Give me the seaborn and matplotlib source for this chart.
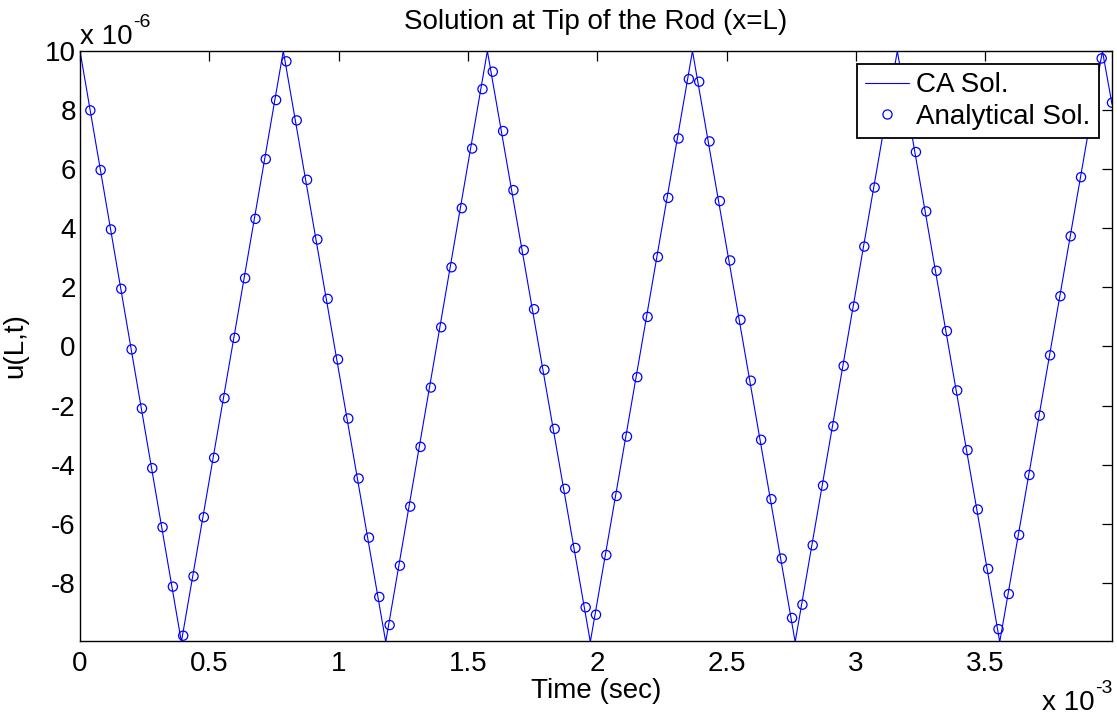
import numpy as np
import pandas as pd
import matplotlib
matplotlib.use("Agg")
import matplotlib.pyplot as plt
import seaborn as sns
from matplotlib.lines import Line2D

# ---- data (time in units of 1e-3 s, displacement in units of 1e-6) ----
ca_time_ms = [0.0, 0.392, 0.786, 1.182, 1.575, 1.973, 2.368, 2.765, 3.160, 3.556, 3.953, 3.990]
ca_disp = [10.0, -10.0, 10.0, -10.0, 10.0, -10.0, 10.0, -10.0, 10.0, -10.0, 10.0, 8.2]

sample_step_ms = 0.0399
analytical_disp = [
    7.99, 5.97, 3.96, 1.95, -0.10, -2.10, -4.12, -6.12, -8.13, -9.79,
    -7.78, -5.78, -3.77, -1.75, 0.29, 2.31, 4.32, 6.34, 8.34, 9.65,
    7.65, 5.64, 3.62, 1.61, -0.44, -2.44, -4.47, -6.47, -8.48, -9.43,
    -7.42, -5.42, -3.40, -1.39, 0.65, 2.68, 4.68, 6.70, 8.71, 9.30,
    7.29, 5.29, 3.26, 1.26, -0.79, -2.79, -4.82, -6.82, -8.83, -9.08,
    -7.06, -5.06, -3.05, -1.04, 1.00, 3.03, 5.03, 7.04, 9.05, 8.96,
    6.94, 4.92, 2.91, 0.90, -1.16, -3.16, -5.17, -7.18, -9.19, -8.74,
    -6.73, -4.71, -2.70, -0.66, 1.35, 3.38, 5.38, 7.39, 9.40, 8.60,
    6.58, 4.57, 2.56, 0.52, -1.49, -3.51, -5.52, -7.53, -9.57, -8.38,
    -6.38, -4.35, -2.34, -0.30, 1.70, 3.73, 5.73, 7.74, 9.75, 8.25,
]
analytical_time_ms = [sample_step_ms * (i + 1) for i in range(len(analytical_disp))]

x_ticks = [0, 0.5, 1, 1.5, 2, 2.5, 3, 3.5]
x_tick_labels = ["0", "0.5", "1", "1.5", "2", "2.5", "3", "3.5"]
y_ticks = [-8, -6, -4, -2, 0, 2, 4, 6, 8, 10]
y_tick_labels = ["-8", "-6", "-4", "-2", "0", "2", "4", "6", "8", "10"]

title = "Solution at Tip of the Rod (x=L)"
xlabel = "Time (sec)"
ylabel = "u(L,t)"
legend_labels = ["CA Sol.", "Analytical Sol."]
y_exp = "-6"
x_exp = "-3"

# ---- style ----
sns.set_style("white")
plt.rcParams["font.family"] = ["Liberation Sans", "DejaVu Sans"]
plt.rcParams["axes.unicode_minus"] = False
plt.rcParams["text.color"] = "black"
plt.rcParams["axes.labelcolor"] = "black"
FS = 20
FS_SUP = 14

ca_df = pd.DataFrame({"t": ca_time_ms, "u": ca_disp})
an_df = pd.DataFrame({"t": analytical_time_ms, "u": analytical_disp})

W, H = 1117, 717
fig = plt.figure(figsize=(W / 100, H / 100), dpi=100)
ax = fig.add_axes([80 / W, (H - 641) / H, (1112 - 80) / W, (641 - 51) / H])

sns.lineplot(data=ca_df, x="t", y="u", ax=ax, color="#0000ff", linewidth=0.8,
             sort=False, estimator=None, legend=False)
sns.scatterplot(data=an_df, x="t", y="u", ax=ax, marker="o", s=44,
                facecolors="none", edgecolor="#0000ff", linewidth=0.9,
                legend=False, zorder=3)

ax.set_xlim(0, 3.99)
ax.set_ylim(-9.97, 10.0)
ax.set_xticks(x_ticks)
ax.set_xticklabels(x_tick_labels)
ax.set_yticks(y_ticks)
ax.set_yticklabels(y_tick_labels)

for sp in ax.spines.values():
    sp.set_visible(True)
    sp.set_color("black")
    sp.set_linewidth(1.0)

ax.tick_params(axis="both", which="major", direction="in", length=7.2, width=0.9,
               top=True, right=True, labelsize=FS, colors="black")
ax.tick_params(axis="x", pad=7)
ax.tick_params(axis="y", pad=3)

ax.set_title(title, fontsize=FS, pad=16, color="black")
ax.set_xlabel(xlabel, fontsize=FS, labelpad=1)
ax.set_ylabel(ylabel, fontsize=FS, labelpad=12)

handles = [
    Line2D([], [], color="#0000ff", linewidth=0.8),
    Line2D([], [], marker="o", linestyle="none", markerfacecolor="none",
           markeredgecolor="#0000ff", markersize=6.6, markeredgewidth=0.9),
]
leg = ax.legend(handles, legend_labels, loc="upper right",
                bbox_to_anchor=(1099 / W, (H - 64) / H),
                bbox_transform=fig.transFigure, borderaxespad=0,
                fontsize=FS, frameon=True, fancybox=False, framealpha=1,
                edgecolor="black", borderpad=0.3, labelspacing=0.2,
                handlelength=1.6, handletextpad=0.25)
leg.get_frame().set_linewidth(1.3)

# exponent labels (MATLAB style: "x 10" with raised exponent)
fig.canvas.draw()
renderer = fig.canvas.get_renderer()

t1 = fig.text(80 / W, (H - 44) / H, "x 10", ha="left", va="baseline", fontsize=FS)
bb = t1.get_window_extent(renderer)
fig.text(bb.x1 / W + 1 / W, (H - 27) / H, y_exp, ha="left", va="baseline", fontsize=FS_SUP)

t3 = fig.text(1113 / W, (H - 693) / H, x_exp, ha="right", va="baseline", fontsize=FS_SUP)
bb3 = t3.get_window_extent(renderer)
fig.text(bb3.x0 / W - 1 / W, (H - 710) / H, "x 10", ha="right", va="baseline", fontsize=FS)

fig.savefig("out.png", dpi=100, facecolor="white")
